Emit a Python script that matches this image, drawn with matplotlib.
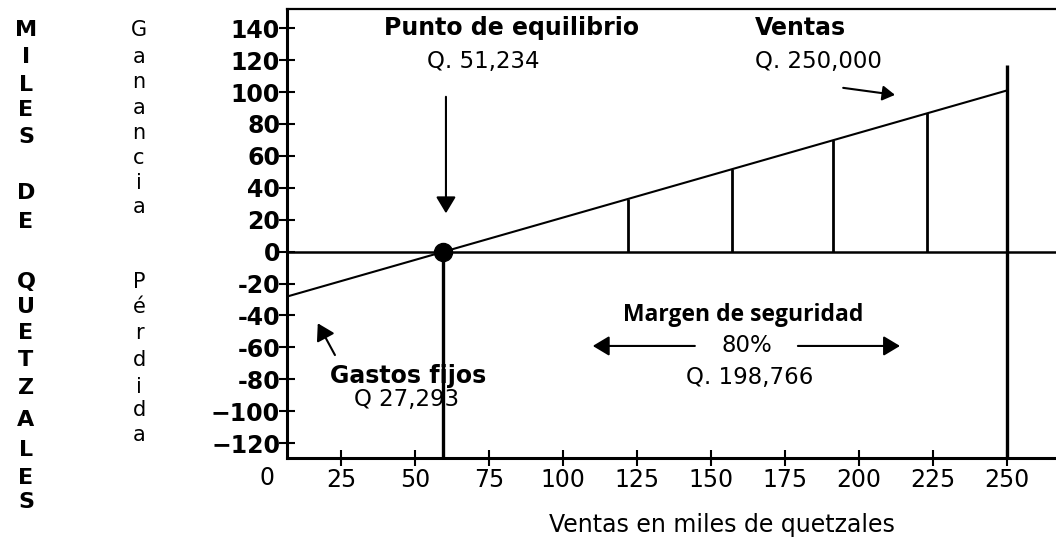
import numpy as np
import matplotlib
matplotlib.use("Agg")
import matplotlib.pyplot as plt

# data (miles de quetzales)
profit_x = [7, 250]
profit_y = [-28, 101]
breakeven_x = 59.4
ventas_x = 250
ventas_top = 117
margin_x = [122, 157, 191, 223]
margin_top = [33, 52, 70, 87]
x_ticks = [25, 50, 75, 100, 125, 150, 175, 200, 225, 250]
y_ticks = [-120, -100, -80, -60, -40, -20, 0, 20, 40, 60, 80, 100, 120, 140]

W, H = 1056, 552
plt.rcParams['font.family'] = ['DejaVu Sans']
fig = plt.figure(figsize=(W / 100, H / 100), dpi=100)
ax = fig.add_axes([287 / W, (H - 458) / H, 1 - 287 / W, (458 - 9) / H])
xlo, xhi = 6.7, 266.5
ylo, yhi = -129.3, 152
ax.set_xlim(xlo, xhi)
ax.set_ylim(ylo, yhi)

# lines
ax.axhline(0, color='black', lw=1.8)
ax.plot(profit_x, profit_y, color='black', lw=1.5, solid_capstyle='butt')
ax.vlines(margin_x, 0, margin_top, color='black', lw=2)
ax.vlines(breakeven_x, ylo, 0, color='black', lw=2.4)
ax.vlines(ventas_x, ylo, ventas_top, color='black', lw=2.4)
ax.plot([breakeven_x], [0], 'o', color='black', markersize=13, zorder=5)

# spines / ticks
for s in ['left', 'bottom']:
    ax.spines[s].set_linewidth(2.2)
ax.spines['top'].set_linewidth(1.6)
ax.spines['right'].set_visible(False)

ax.set_yticks(y_ticks)
ax.set_yticklabels([str(v).replace('-', '\u2212') if v < -90 else str(v) for v in y_ticks],
                   fontsize=17, fontweight='bold')
ax.set_xticks(x_ticks)
ax.set_xticklabels([str(v) for v in x_ticks], fontsize=17)
ax.tick_params(axis='y', direction='inout', length=11, width=1.5, pad=-0.5)
ax.tick_params(axis='x', direction='inout', length=12, width=1.5, pad=1)
ax.annotate('0', xy=(0, 0), xycoords=('data', 'axes fraction'), xytext=(0, -5.5),
            textcoords='offset points', ha='center', va='top', fontsize=17,
            annotation_clip=False)

# annotations
ax.text(82.7, 140.2, 'Punto de equilibrio', ha='center', va='center', fontsize=17, fontweight='bold')
ax.text(72.9, 118.9, 'Q. 51,234', ha='center', va='center', fontsize=16.5)
ax.text(164.8, 140.2, 'Ventas', ha='left', va='center', fontsize=17, fontweight='bold')
ax.text(164.8, 118.9, 'Q. 250,000', ha='left', va='center', fontsize=16.5)
ax.text(160.8, -39.7, 'Margen de seguridad', ha='center', va='center', fontsize=16.5,
        fontweight='bold', family=['Open Sans', 'DejaVu Sans'])
ax.text(162.1, -59.1, '80%', ha='center', va='center', fontsize=16.5)
ax.text(163.1, -79.1, 'Q. 198,766', ha='center', va='center', fontsize=16.5)
ax.text(47.5, -77.9, 'Gastos fijos', ha='center', va='center', fontsize=17, fontweight='bold')
ax.text(47.2, -92.9, 'Q 27,293', ha='center', va='center', fontsize=16.5)

big = dict(arrowstyle='-|>,head_length=0.5,head_width=0.3', color='black', lw=1.5,
           mutation_scale=20, shrinkA=0, shrinkB=0)
small = dict(big, mutation_scale=15)
ax.annotate('', xy=(60.4, 24), xytext=(60.4, 97), arrowprops=big)
ax.annotate('', xy=(212.1, 98.2), xytext=(194.6, 102.6), arrowprops=small)
ax.annotate('', xy=(110.0, -59.1), xytext=(144.5, -59.1), arrowprops=big)
ax.annotate('', xy=(213.8, -59.1), xytext=(179.3, -59.1), arrowprops=big)
ax.annotate('', xy=(17.1, -44.9), xytext=(22.9, -64.8), arrowprops=big)

# axis titles
fig.text(722 / W, 1 - 525 / H, 'Ventas en miles de quetzales', ha='center', va='center', fontsize=17)

col1 = ['M', 'I', 'L', 'E', 'S', 'D', 'E', 'Q', 'U', 'E', 'T', 'Z', 'A', 'L', 'E', 'S']
col1_y = [30, 57, 85, 110, 137, 193, 222, 282, 307, 333, 360, 388, 420, 450, 478, 502]
for ch, yy in zip(col1, col1_y):
    fig.text(26 / W, 1 - yy / H, ch, ha='center', va='center', fontsize=16, fontweight='bold')

col2 = ['G', 'a', 'n', 'a', 'n', 'c', 'i', 'a', 'P', 'é', 'r', 'd', 'i', 'd', 'a']
col2_y = [30, 57, 82, 108, 133, 158, 183, 207, 282, 307, 333, 360, 387, 410, 435]
for ch, yy in zip(col2, col2_y):
    fig.text(139 / W, 1 - yy / H, ch, ha='center', va='center', fontsize=15)

fig.savefig('out.png', dpi=100)
